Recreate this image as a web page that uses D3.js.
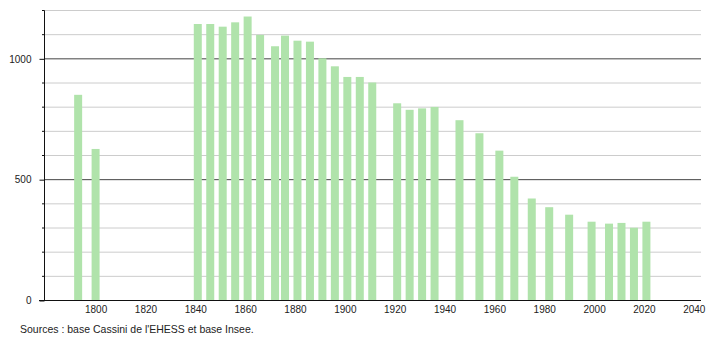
<!DOCTYPE html>
<html>
<head>
<meta charset="utf-8">
<script src="https://cdn.jsdelivr.net/npm/d3@7"></script>
<style>
  body { margin: 0; background: #fff; }
  svg text { font-family: "Liberation Sans", Arial, sans-serif; fill: #222; }
</style>
</head>
<body>
<div id="chart-area"></div>
<script>
// census years and population
var years = [1793, 1800, 1841, 1846, 1851, 1856, 1861, 1866, 1872, 1876, 1881, 1886,
             1891, 1896, 1901, 1906, 1911, 1921, 1926, 1931, 1936, 1946, 1954, 1962,
             1968, 1975, 1982, 1990, 1999, 2006, 2011, 2016, 2021];
var population = [849, 625, 1142, 1142, 1131, 1149, 1173, 1097, 1050, 1094, 1073, 1069,
                  1000, 967, 923, 923, 900, 814, 787, 793, 799, 744, 690, 618,
                  510, 420, 384, 353, 324, 316, 319, 299, 324];
var yTicks = [0, 500, 1000];
var yMinor = [100, 200, 300, 400, 600, 700, 800, 900, 1100, 1200];
var xTicks = [1800, 1820, 1840, 1860, 1880, 1900, 1920, 1940, 1960, 1980, 2000, 2020, 2040];
var source = "Sources : base Cassini de l'EHESS et base Insee.";

var width = 710, height = 340;

var svg = d3.select("#chart-area")
    .append("svg")
        .attr("width", width)
        .attr("height", height);

var x = d3.scaleLinear()
    .domain([1779.3, 2042.5])
    .range([44, 700]);
var y = d3.scaleLinear()
    .domain([0, 1200])
    .range([300, 10]);

// grid, behind the bars
svg.append("g").selectAll("line")
    .data(yMinor)
    .enter().append("line")
        .attr("x1", 44).attr("x2", 701)
        .attr("y1", function(d){ return y(d) + 0.5; })
        .attr("y2", function(d){ return y(d) + 0.5; })
        .attr("stroke", "#cccccc");

svg.append("g").selectAll("line")
    .data(yTicks.filter(function(d){ return d > 0; }))
    .enter().append("line")
        .attr("x1", 44).attr("x2", 701)
        .attr("y1", function(d){ return y(d) + 0.5; })
        .attr("y2", function(d){ return y(d) + 0.5; })
        .attr("stroke", "#444");

// bars
svg.append("g").selectAll("rect")
    .data(years)
    .enter().append("rect")
        .attr("x", function(d){ return x(d) - 4; })
        .attr("width", 8)
        .attr("y", function(d, i){ return y(population[i]); })
        .attr("height", function(d, i){ return 300 - y(population[i]); })
        .attr("fill", "#b0e3ab");

// y axis
var yAxis = svg.append("g")
    .attr("transform", "translate(44.5,0.5)")
    .call(d3.axisLeft(y).tickValues(yTicks).tickSize(5).tickPadding(8).tickFormat(d3.format("d")));
yAxis.select(".domain").attr("stroke", "#111").attr("d", "M0," + y(1200) + "V" + y(0));
yAxis.selectAll(".tick line").attr("stroke", "#111");
yAxis.selectAll("text").attr("font-size", "10px").attr("font-family", null).attr("fill", "#222");

svg.append("g").selectAll("line")
    .data(yMinor)
    .enter().append("line")
        .attr("x1", 42).attr("x2", 44.5)
        .attr("y1", function(d){ return y(d) + 0.5; })
        .attr("y2", function(d){ return y(d) + 0.5; })
        .attr("stroke", "#111");

// x axis
var xAxis = svg.append("g")
    .attr("transform", "translate(0,300.5)")
    .call(d3.axisBottom(x).tickValues(xTicks).tickSize(0).tickPadding(5).tickFormat(d3.format("d")));
xAxis.select(".domain").attr("stroke", "#111").attr("d", "M39,0H701");
xAxis.selectAll("text").attr("font-size", "10px").attr("font-family", null).attr("fill", "#222");

svg.append("text")
    .attr("x", 20)
    .attr("y", 333)
    .attr("font-size", "10.5px")
    .text(source);
</script>
</body>
</html>
